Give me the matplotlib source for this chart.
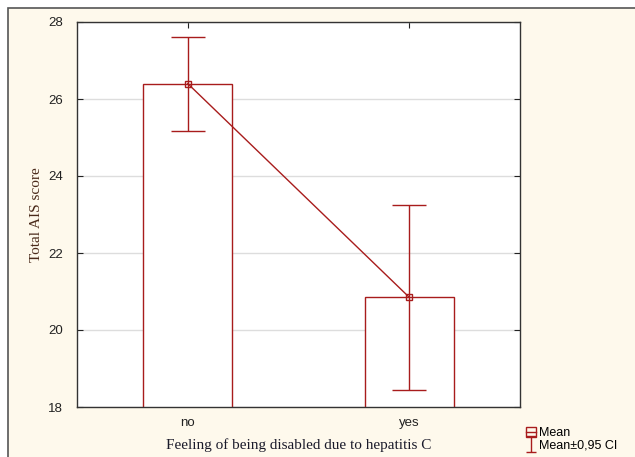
import matplotlib.pyplot as plt
import numpy as np
from matplotlib.lines import Line2D
from matplotlib.patches import Rectangle
from matplotlib.path import Path

# data
groups = ["no", "yes"]
means = [26.4, 20.85]
ci_low = [25.18, 18.45]
ci_high = [27.6, 23.25]

red = "#a81c1c"
cream = "#fef9ec"

fig = plt.figure(figsize=(6.35, 4.57), dpi=100)
fig.patch.set_facecolor("white")

# cream panel with dark frame (the outer window)
panel = Rectangle((8 / 635, -0.01), 1.0, 1 - 8 / 457 + 0.01, transform=fig.transFigure,
                  facecolor=cream, edgecolor="#555555", linewidth=1.2, zorder=-10)
fig.patches.append(panel)

ax = fig.add_axes([77 / 635, 1 - 407 / 457, (520 - 77) / 635, (407 - 22) / 457])
ax.set_facecolor("white")

x = np.arange(len(groups))
m = np.array(means)
lo = m - np.array(ci_low)
hi = np.array(ci_high) - m

ax.bar(x, m, width=0.4, bottom=0, facecolor="white", edgecolor=red, linewidth=1.0, zorder=2)
ax.errorbar(x, m, yerr=[lo, hi], fmt="none", ecolor=red, elinewidth=1.0,
            capsize=12, capthick=1.0, zorder=3)
ax.plot(x, m, color=red, linewidth=1.0, marker="s", markersize=5,
        markerfacecolor="none", markeredgecolor=red, zorder=4)

ax.set_xlim(-0.5, 1.5)
ax.set_ylim(18, 28)
ax.set_xticks(x)
ax.set_xticklabels(groups)
ax.set_yticks([18, 20, 22, 24, 26, 28])
ax.yaxis.grid(True, color="#dddddd", linewidth=1.0)
ax.set_axisbelow(True)
ax.tick_params(direction="in", top=True, right=True, length=4, width=0.8,
               labelsize=9.5, colors="#222222")
ax.tick_params(axis="x", pad=7)
ax.tick_params(axis="y", pad=10)
for lbl in ax.get_xticklabels() + ax.get_yticklabels():
    lbl.set_fontfamily("Liberation Sans")
for s in ax.spines.values():
    s.set_color("#333333")
    s.set_linewidth(1.0)

ax.set_ylabel("Total AIS score", fontfamily="Liberation Serif", fontsize=11,
              color="#4a2a1a")
ax.yaxis.set_label_coords(-0.077, 0.5)
ax.set_xlabel("Feeling of being disabled due to hepatitis C", fontfamily="Liberation Serif",
              fontsize=11, color="#1a1a2a", labelpad=7)

# thin I-beam marker for the CI legend entry
ibeam = Path([(-0.6, 1), (0.6, 1), (0, 1), (0, -1), (-0.6, -1), (0.6, -1)],
             [Path.MOVETO, Path.LINETO, Path.MOVETO, Path.LINETO, Path.MOVETO, Path.LINETO])
handles = [
    Line2D([], [], color=red, marker="s", markersize=7, markerfacecolor="none",
           linestyle="-", linewidth=1.0),
    Line2D([], [], color=red, marker=ibeam, markersize=11, markeredgewidth=1.0,
           markerfacecolor="none", linestyle="none"),
]
fig.legend(handles, ["Mean", "Mean±0,95 CI"], loc="lower left",
           bbox_to_anchor=(518 / 635, -0.005), frameon=False, handlelength=0.8,
           handletextpad=0.3, labelspacing=0.05, borderaxespad=0.2,
           prop={"family": "Liberation Sans", "size": 9})

fig.savefig("out.png", dpi=100, facecolor=fig.get_facecolor())
